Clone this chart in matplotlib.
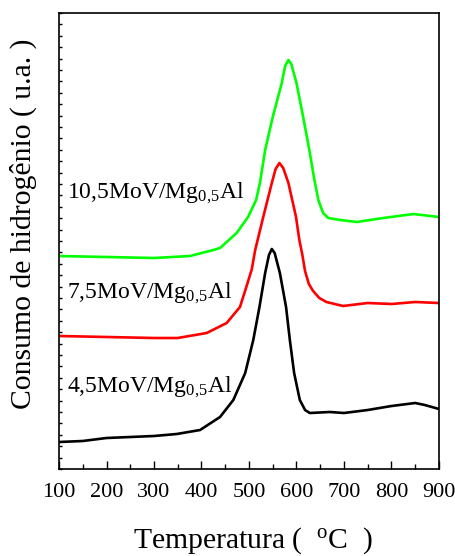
import matplotlib
matplotlib.use("Agg")
import matplotlib.pyplot as plt
from matplotlib.ticker import MultipleLocator

plt.rcParams['font.family'] = ['Liberation Serif', 'DejaVu Serif']
plt.rcParams['mathtext.fontset'] = 'custom'
plt.rcParams['mathtext.rm'] = 'Liberation Serif'
plt.rcParams['mathtext.it'] = 'Liberation Serif'
plt.rcParams['mathtext.default'] = 'rm'

# TPR curves (arbitrary units, offset per sample)
x_black = [100, 150, 200, 250, 300, 348, 397, 439, 467, 492, 509, 522, 534, 542, 548, 554,
           565, 578, 586, 595, 607, 618, 628, 670, 700, 750, 800, 850, 870, 900]
y_black = [27, 28, 31, 32, 33, 35, 39, 52, 69, 96, 129, 162, 196, 214, 220, 216,
           196, 162, 129, 96, 69, 59, 56, 57, 56, 59, 63, 66, 64, 60]

x_red = [100, 200, 300, 350, 411, 453, 481, 497, 506, 513, 530, 548, 556, 564, 572, 583,
         599, 606, 612, 618, 626, 635, 648, 663, 698, 750, 800, 850, 900]
y_red = [133, 132, 131, 131, 136, 146, 162, 186, 200, 219, 252, 286, 300, 306, 301, 286,
         252, 229, 215, 198, 185, 178, 171, 167, 163, 166, 165, 167, 166]

x_green = [100, 200, 300, 376, 425, 439, 467, 474, 498, 515, 523, 534, 550, 569, 576, 583,
           589, 600, 614, 627, 637, 646, 656, 667, 692, 727, 783, 846, 900]
y_green = [213, 212, 211, 213, 219, 221, 233, 236, 252, 269, 286, 319, 352, 386, 403, 409,
           405, 386, 352, 319, 291, 269, 256, 251, 249, 247, 251, 255, 252]

labels = ['4,5MoV/Mg$_{0{,}5}$Al', '7,5MoV/Mg$_{0{,}5}$Al', '10,5MoV/Mg$_{0{,}5}$Al']
label_y = [77, 171, 271]

fig = plt.figure(figsize=(4.56, 5.56), dpi=100)
ax = fig.add_axes([59 / 456, 87 / 556, 380 / 456, 456 / 556])

ax.plot(x_black, y_black, color='black', lw=1.9)
ax.plot(x_red, y_red, color='#ff0000', lw=1.9)
ax.plot(x_green, y_green, color='#00ff00', lw=1.9)

for txt, yy in zip(labels, label_y):
    ax.text(116, yy, txt, fontsize=17, va='baseline', ha='left')

ax.set_xlim(100, 900)
ax.set_ylim(0, 456)
ax.xaxis.set_major_locator(MultipleLocator(100))
ax.xaxis.set_minor_locator(MultipleLocator(50))
ax.yaxis.set_major_locator(MultipleLocator(456 / 40))
ax.tick_params(axis='x', which='major', direction='in', length=6, width=1, labelsize=16, pad=10)
ax.tick_params(axis='x', which='minor', direction='in', length=3.5, width=1)
ax.tick_params(axis='y', which='major', direction='in', length=2.5, width=1, labelleft=False)
for s in ax.spines.values():
    s.set_linewidth(1.2)

fig.text(253 / 456, 8 / 556, 'Temperatura (  $^{o}$C  )', fontsize=21.3, ha='center', va='baseline')
fig.text(23 / 456, (556 - 224) / 556, 'Consumo de hidrogênio ( u.a. )', fontsize=21.3,
         rotation=90, ha='center', va='center')

fig.savefig('out.png', dpi=100)
